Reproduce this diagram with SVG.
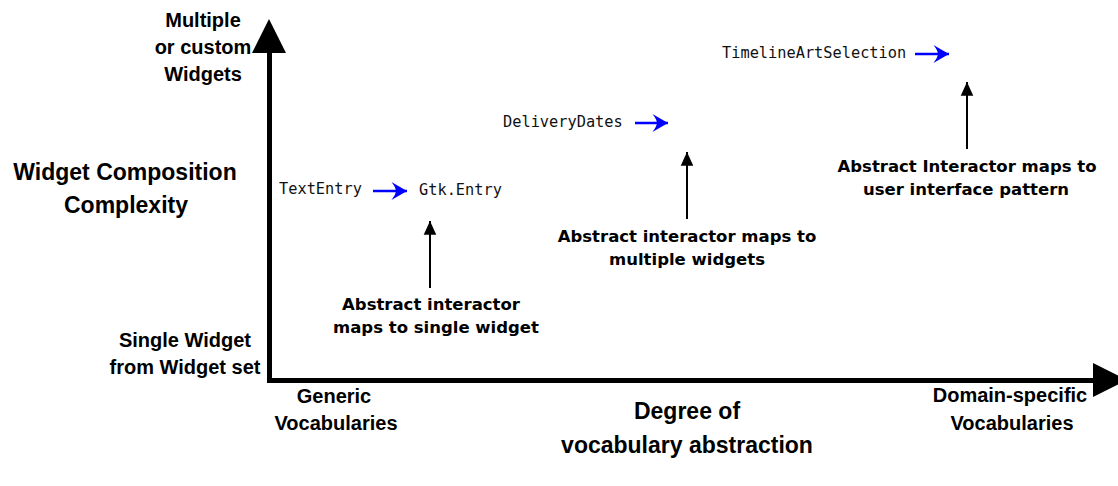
<svg xmlns="http://www.w3.org/2000/svg" width="1118" height="486" viewBox="0 0 1118 486">
  <style>
    .ax { font-family: "Liberation Sans", Arial, sans-serif; font-weight: bold; fill: #000; text-anchor: middle; }
    .note { font-family: "DejaVu Sans", sans-serif; font-weight: bold; font-size: 16.5px; fill: #000; text-anchor: middle; }
    .mono { font-family: "DejaVu Sans Mono", monospace; font-size: 15.3px; fill: #111; }
    .axis { stroke: #000; stroke-width: 5; fill: none; }
    .blue { stroke: #0000ff; stroke-width: 2.5; fill: none; marker-end: url(#blueHead); }
    .blk { stroke: #000; stroke-width: 2; fill: none; marker-end: url(#blackHead); }
  </style>
  <defs>
    <marker id="blueHead" markerUnits="userSpaceOnUse" markerWidth="20" markerHeight="20" viewBox="-15 -9 17 18" refX="0" refY="0" orient="auto">
      <path d="M0,0 L-14,-8 Q-10,-3 -10,0 Q-10,3 -14,8 Z" fill="#0000ff"/>
    </marker>
    <marker id="blackHead" markerUnits="userSpaceOnUse" markerWidth="16" markerHeight="16" viewBox="-13 -6 14 12" refX="0" refY="0" orient="auto">
      <path d="M0,0 L-12,-5.5 L-12,5.5 Z" fill="#000"/>
    </marker>
  </defs>

  <rect width="1118" height="486" fill="#fff"/>

  <g id="axes">
    <path class="axis" d="M269.5,50 L269.5,380.5 L1096,380.5"/>
    <polygon points="269,19 252,53 286,53" fill="#000"/>
    <polygon points="1093,363 1127,380 1093,397" fill="#000"/>
  </g>

  <g id="y-axis-label">
    <text class="ax" x="125" y="180" font-size="23">Widget Composition</text>
    <text class="ax" x="126" y="213" font-size="23">Complexity</text>
  </g>
  <g id="y-top-label">
    <text class="ax" x="203" y="27" font-size="20">Multiple</text>
    <text class="ax" x="203" y="54" font-size="20">or custom</text>
    <text class="ax" x="203" y="81" font-size="20">Widgets</text>
  </g>
  <g id="y-bottom-label">
    <text class="ax" x="185" y="347" font-size="20">Single Widget</text>
    <text class="ax" x="185" y="374" font-size="20">from Widget set</text>
  </g>
  <g id="x-left-label">
    <text class="ax" x="334" y="403" font-size="20">Generic</text>
    <text class="ax" x="336" y="430" font-size="20">Vocabularies</text>
  </g>
  <g id="x-right-label">
    <text class="ax" x="1010" y="402" font-size="20">Domain-specific</text>
    <text class="ax" x="1012" y="430" font-size="20">Vocabularies</text>
  </g>
  <g id="x-axis-label">
    <text class="ax" x="687" y="419" font-size="23">Degree of</text>
    <text class="ax" x="687" y="453" font-size="23">vocabulary abstraction</text>
  </g>

  <g id="text-entry">
    <text class="mono" x="279" y="194">TextEntry</text>
  </g>
  <g id="gtk-entry">
    <text class="mono" x="419" y="195">Gtk.Entry</text>
  </g>
  <g id="delivery-dates">
    <text class="mono" x="503" y="127">DeliveryDates</text>
  </g>
  <g id="timeline">
    <text class="mono" x="722" y="58">TimelineArtSelection</text>
  </g>

  <g id="note-single">
    <text class="note" x="431" y="310">Abstract interactor</text>
    <text class="note" x="436" y="333">maps to single widget</text>
  </g>
  <g id="note-multiple">
    <text class="note" x="687" y="242">Abstract interactor maps to</text>
    <text class="note" x="687" y="265">multiple widgets</text>
  </g>
  <g id="note-pattern">
    <text class="note" x="967" y="172">Abstract Interactor maps to</text>
    <text class="note" x="966" y="195">user interface pattern</text>
  </g>

  <g id="connectors">
    <line class="blue" x1="373" y1="191" x2="407" y2="191"/>
    <line class="blue" x1="635" y1="123" x2="668" y2="123"/>
    <line class="blue" x1="915" y1="54" x2="949" y2="54"/>
    <line class="blk" x1="430" y1="288" x2="430" y2="221"/>
    <line class="blk" x1="687" y1="219" x2="687" y2="152"/>
    <line class="blk" x1="967" y1="149" x2="967" y2="82"/>
  </g>
</svg>
